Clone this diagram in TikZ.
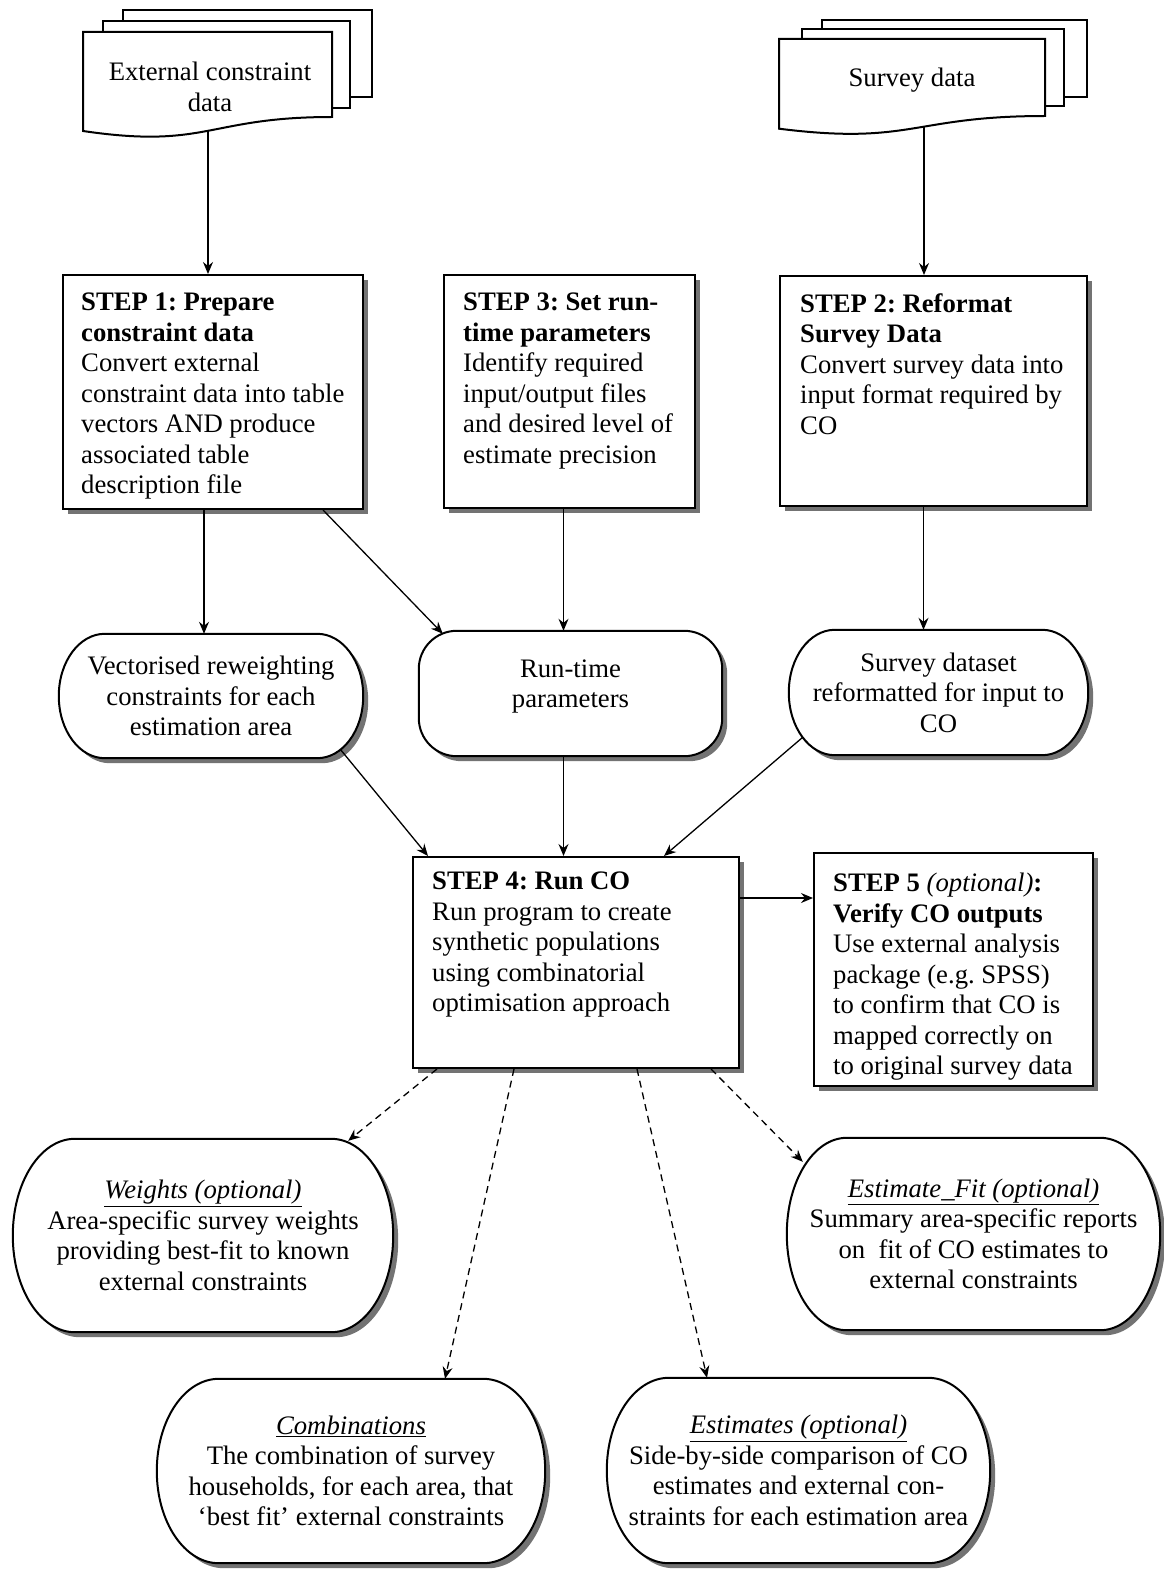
\documentclass[tikz,border=0pt]{standalone}
\usepackage{fontspec}
\setmainfont{Liberation Serif}
\usetikzlibrary{positioning, shadows, calc, arrows.meta, backgrounds}
\frenchspacing

\tikzset{
	arr/.style={-{Stealth[length=12pt,width=10pt,inset=4pt]}, line width=1.3pt},
	dasharr/.style={arr, dash pattern=on 7pt off 5pt},
	stepbox/.style={draw, line width=2pt, fill=white, inner sep=0pt, anchor=north west,
		drop shadow={shadow xshift=5pt, shadow yshift=-5pt, fill=black!55, opacity=1}},
	steptext/.style={inner sep=0pt, align=left},
	termnode/.style={inner sep=0pt, align=center},
	sheet/.style={draw, line width=2pt, fill=white},
	termline/.style={draw, line width=2pt, fill=white},
	termshade/.style={fill=black!55, transform canvas={shift={(5pt,-5pt)}}},
}

\newcommand{\termpath}[4][]{%
	\path[#1] let \p1=(#2.north west), \p2=(#2.south east) in
		(\x1+#3,\y1) -- (\x2-#3,\y1) arc[start angle=90,end angle=0,x radius=#3,y radius=#4]
		-- (\x2,\y2+#4) arc[start angle=0,end angle=-90,x radius=#3,y radius=#4]
		-- (\x1+#3,\y2) arc[start angle=270,end angle=180,x radius=#3,y radius=#4]
		-- (\x1,\y1-#4) arc[start angle=180,end angle=90,x radius=#3,y radius=#4] -- cycle;}

\begin{document}
\begin{tikzpicture}[x=1pt, y=1pt, font=\fontsize{26.7pt}{30.5pt}\selectfont]
	\useasboundingbox (0,0) rectangle (1163,-1570);

	\draw[sheet] (123,-10) rectangle (372,-97);
	\draw[sheet] (103,-21) rectangle (350,-108);
	\draw[sheet] (83,-32) -- (332,-32) -- (332,-117) .. controls (207.5,-117) and (207.5,-149.4) .. (83,-131) -- cycle;
	\draw[sheet] (822,-20) rectangle (1087,-97);
	\draw[sheet] (802,-29) rectangle (1064,-106);
	\draw[sheet] (779,-39) -- (1045,-39) -- (1045,-116) .. controls (912,-116) and (912,-145.4) .. (779,-128.7) -- cycle;
	\node[termnode] (exttxt) at (210,-87) {External constraint\\data};
	\node[termnode] (survtxt) at (912,-80) {Survey data};
	\coordinate (extbot) at (208,-131);
	\coordinate (survbot) at (924,-127);

	\node[stepbox, minimum width=300pt, minimum height=234pt] (step1) at (62,-274) {};
	\node[steptext, below right=19pt and 19pt of step1.north west] (step1txt) {\textbf{STEP 1: Prepare}\\\textbf{constraint data}\\Convert external\\constraint data into table\\vectors AND produce\\associated table\\description file};
	\node[stepbox, minimum width=251pt, minimum height=233pt] (step3) at (443,-274) {};
	\node[steptext, below right=19pt and 20pt of step3.north west] (step3txt) {\textbf{STEP 3: Set run-}\\\textbf{time parameters}\\Identify required\\input/output files\\and desired level of\\estimate precision};
	\node[stepbox, minimum width=307pt, minimum height=230pt] (step2) at (779,-275) {};
	\node[steptext, below right=18pt and 21pt of step2.north west] (step2txt) {\textbf{STEP 2: Reformat}\\\textbf{Survey Data}\\Convert survey data into\\input format required by\\CO};

	\node[termnode, minimum width=304pt, minimum height=124pt] (vec) at (211,-696) {Vectorised reweighting\\constraints for each\\estimation area};
	\node[termnode, minimum width=303pt, minimum height=125pt] (rtp) at (570.5,-693.5) {Run-time\\parameters\\[-10.5pt]};
	\node[termnode, minimum width=299pt, minimum height=125pt] (survds) at (938.5,-692.5) {Survey dataset\\reformatted for input to\\CO};

	\node[stepbox, minimum width=326pt, minimum height=211pt] (step4) at (412,-856) {};
	\node[steptext, below right=16pt and 20pt of step4.north west] (step4txt) {\textbf{STEP 4: Run CO}\\Run program to create\\synthetic populations\\using combinatorial\\optimisation approach};
	\node[stepbox, minimum width=279pt, minimum height=233pt] (step5) at (813,-852) {};
	\node[steptext, below right=21pt and 20pt of step5.north west] (step5txt) {\textbf{STEP 5} \textit{(optional)}\textbf{:}\\\textbf{Verify CO outputs}\\Use external analysis\\package (e.g. SPSS)\\to confirm that CO is\\mapped correctly on\\to original survey data};

	\node[termnode, minimum width=380pt, minimum height=193pt] (wts) at (203,-1235.5) {\underline{\textit{Weights (optional)}}\\Area-specific survey weights\\providing best-fit to known\\external constraints};
	\node[termnode, minimum width=373pt, minimum height=192pt] (fit) at (973.5,-1234) {\underline{\textit{Estimate\_Fit (optional)}}\\Summary area-specific reports\\on~ fit of CO estimates to\\external constraints};
	\node[termnode, minimum width=388pt, minimum height=184pt] (comb) at (351,-1471) {\underline{\textit{Combinations}}\\The combination of survey\\households, for each area, that\\`best fit' external constraints};
	\node[termnode, minimum width=383pt, minimum height=185pt] (ests) at (798.5,-1470.5) {\underline{\textit{Estimates (optional)}}\\Side-by-side comparison of CO\\estimates and external con-\\straints for each estimation area};

	\begin{scope}[on background layer]
		\foreach \nd/\rx/\ry in {vec/46/62, survds/46/62.5, rtp/38/38, wts/62/96.5, fit/60/96, comb/62/92, ests/62/92.5}{
			\termpath[termshade]{\nd}{\rx}{\ry}
			\termpath[termline]{\nd}{\rx}{\ry}
		}
	\end{scope}

	\draw[arr] (extbot) to (extbot |- step1.north);
	\draw[arr] (survbot) to (survbot |- step2.north);
	\draw[arr] ([xshift=-7pt]vec.north |- step1.south) to ([xshift=-7pt]vec.north);
	\draw[arr] ([xshift=261pt]step1.south west) to ([shift={(24pt,-3pt)}]rtp.north west);
	\draw[arr] ([xshift=-7pt]rtp.north |- step3.south) to ([xshift=-7pt]rtp.north);
	\draw[arr] ([xshift=-15pt]survds.north |- step2.south) to ([xshift=-15pt]survds.north);
	\draw[arr] ([shift={(-23pt,9pt)}]vec.south east) to ([xshift=16pt]step4.north west);
	\draw[arr] ([xshift=-7pt]rtp.south) to ([xshift=-7pt]rtp.south |- step4.north);
	\draw[arr] ([shift={(14pt,18pt)}]survds.south west) to ([xshift=-76pt]step4.north east);
	\draw[arr] ([yshift=-42pt]step4.north east) to ([yshift=-42pt]step4.north east -| step5.west);
	\draw[dasharr] ([xshift=25pt]step4.south west) to ([shift={(-45pt,-2pt)}]wts.north east);
	\draw[dasharr] ([xshift=102pt]step4.south west) to ([xshift=94pt]comb.north);
	\draw[dasharr] ([xshift=225pt]step4.south west) to ([xshift=-91.5pt]ests.north);
	\draw[dasharr] ([xshift=-29pt]step4.south east) to ([shift={(16pt,-24pt)}]fit.north west);
\end{tikzpicture}
\end{document}
